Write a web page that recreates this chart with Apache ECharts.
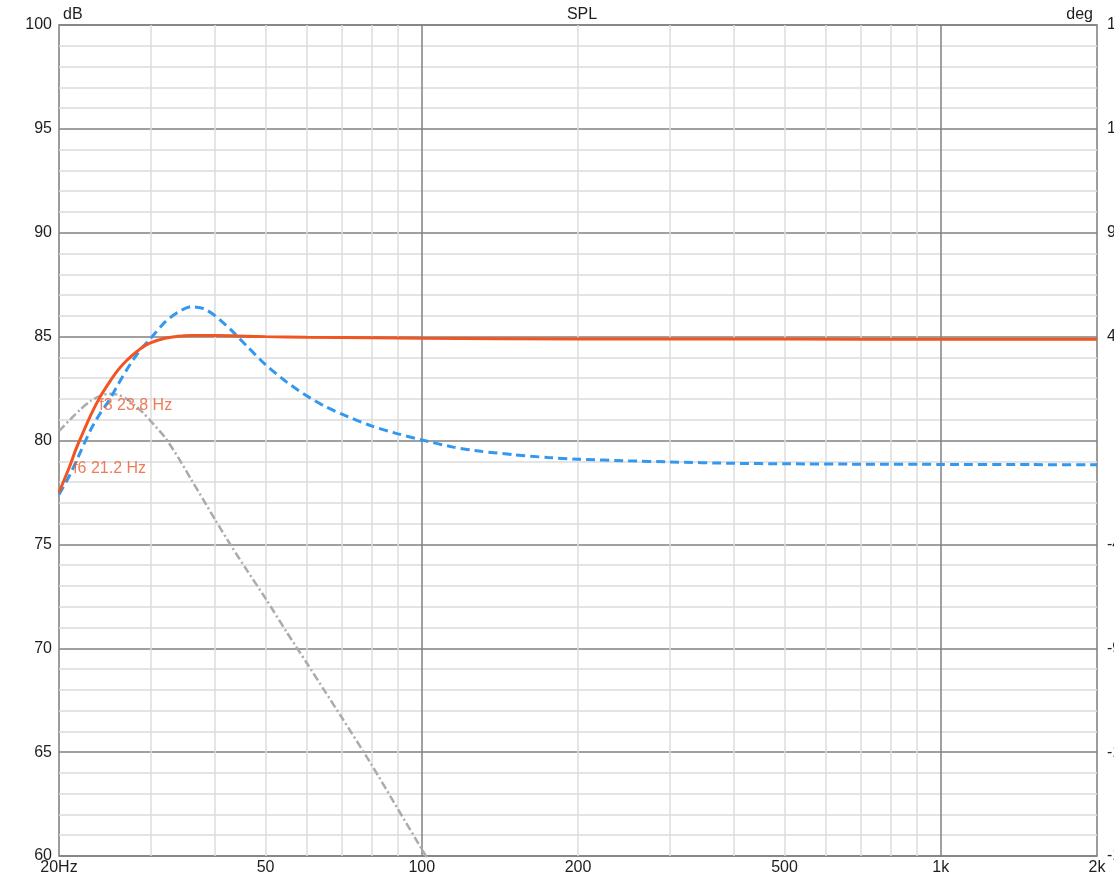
<!DOCTYPE html>
<html>
<head>
<meta charset="utf-8">
<script src="https://cdn.jsdelivr.net/npm/echarts@6/dist/echarts.min.js"></script>
<style>
  html, body { margin: 0; padding: 0; background: #ffffff; }
  #chart { width: 1114px; height: 882px; }
</style>
</head>
<body>
<div id="chart"></div>
<script>
// ---- data ----
const chartTitle = 'SPL';
const leftAxisName = 'dB';
const rightAxisName = 'deg';

const xTickValues = [20, 50, 100, 200, 500, 1000, 2000];
const xTickLabels = ['20Hz', '50', '100', '200', '500', '1k', '2k'];
const xMinorGrid = [30, 40, 50, 60, 70, 80, 90, 200, 300, 400, 500, 600, 700, 800, 900];
const xMajorGrid = [100, 1000];

// orange solid: SPL
const splFreq = [20, 21, 21.5, 22, 23, 24, 25, 26, 27, 28, 29, 30, 32, 34, 36, 40, 46, 50, 60, 80, 100, 200, 500, 1000, 2000];
const splValues = [77.5, 78.8, 79.5, 80.1, 81.2, 82.1, 82.8, 83.4, 83.85, 84.2, 84.5, 84.7, 84.92, 85.02, 85.05, 85.05, 85.02, 85.0, 84.97, 84.94, 84.92, 84.89, 84.88, 84.87, 84.87];

// blue dashed
const blueFreq = [20, 21, 22, 23, 24, 25, 26, 27, 28, 29, 30, 32, 34, 36, 38, 40, 43, 46, 50, 55, 60, 65, 70, 80, 90, 100, 115, 130, 150, 175, 200, 250, 300, 400, 500, 700, 1000, 1500, 2000];
const blueValues = [77.4, 78.35, 79.45, 80.5, 81.3, 81.95, 82.7, 83.4, 84.0, 84.5, 84.9, 85.7, 86.2, 86.44, 86.35, 86.0, 85.3, 84.55, 83.65, 82.8, 82.15, 81.65, 81.28, 80.7, 80.32, 80.03, 79.68, 79.48, 79.32, 79.18, 79.1, 79.02, 78.97, 78.9, 78.88, 78.86, 78.85, 78.84, 78.83];

// gray dash-dot
const grayFreq = [20, 21, 22, 23, 24, 25, 26, 27, 28, 29, 30, 32, 34, 36, 38, 40, 43, 46, 50, 55, 60, 65, 70, 80, 90, 100, 103];
const grayValues = [80.45, 81.0, 81.5, 81.9, 82.15, 82.25, 82.2, 82.0, 81.7, 81.35, 80.95, 80.15, 79.15, 78.1, 77.12, 76.18, 74.9, 73.77, 72.4, 70.75, 69.3, 67.95, 66.7, 64.4, 62.25, 60.33, 59.8];

// annotations
const markerNames = ['f3', 'f6'];
const markerFreqs = [23.8, 21.2];
const markerLevels = [82, 79];

// ---- chart ----
const zip = (xs, ys) => xs.map((x, i) => [x, ys[i]]);
const labelFont = { fontFamily: 'Liberation Sans, Arial, sans-serif', fontSize: 16, color: '#1e1e1e' };

const chart = echarts.init(document.getElementById('chart'), null, { renderer: 'canvas' });
chart.setOption({
  backgroundColor: '#ffffff',
  animation: false,
  title: {
    text: chartTitle, left: 577, top: 2, textAlign: 'center',
    textStyle: { fontFamily: 'Liberation Sans, Arial, sans-serif', fontSize: 16, fontWeight: 'normal', color: '#1e1e1e' }
  },
  grid: {
    left: 59, top: 25, right: 17, bottom: 26,
    show: true, borderColor: '#7c7c7c', borderWidth: 1.5, backgroundColor: 'transparent',
    containLabel: false, outerBoundsMode: 'none'
  },
  xAxis: [
    {
      type: 'log', logBase: 10, min: 20, max: 2000, position: 'bottom',
      axisLine: { show: false },
      axisTick: { show: false, customValues: xMinorGrid },
      axisLabel: {
        show: true, customValues: xTickValues, margin: 4, ...labelFont,
        formatter: (v) => { const i = xTickValues.findIndex(t => Math.abs(t - v) < 1e-6); return i >= 0 ? xTickLabels[i] : ''; }
      },
      splitLine: { show: true, lineStyle: { color: '#dcdcdc', width: 1.5 } },
      minorSplitLine: { show: false }
    },
    {
      type: 'log', logBase: 10, min: 20, max: 2000, position: 'bottom',
      axisLine: { show: false },
      axisTick: { show: false, customValues: xMajorGrid },
      axisLabel: { show: false },
      splitLine: { show: true, lineStyle: { color: '#808080', width: 1.5 } }
    }
  ],
  yAxis: [
    {
      type: 'value', min: 60, max: 100, interval: 5, position: 'left',
      name: leftAxisName, nameLocation: 'end', nameGap: 2,
      nameTextStyle: { ...labelFont, align: 'left', padding: [0, 0, 0, 4] },
      axisLine: { show: false }, axisTick: { show: false },
      axisLabel: { ...labelFont, margin: 7 },
      splitLine: { show: true, lineStyle: { color: '#808080', width: 1.5 } },
      minorTick: { show: false, splitNumber: 5 },
      minorSplitLine: { show: true, lineStyle: { color: '#dcdcdc', width: 1.5 } }
    },
    {
      type: 'value', min: -180, max: 180, interval: 45, position: 'right',
      name: rightAxisName, nameLocation: 'end', nameGap: 2,
      nameTextStyle: { ...labelFont, align: 'right', padding: [0, 4, 0, 0] },
      axisLine: { show: false }, axisTick: { show: false },
      axisLabel: { ...labelFont, margin: 10, align: 'left', formatter: (v) => v === 0 ? '' : String(v) },
      splitLine: { show: false }
    }
  ],
  series: [
    {
      name: 'gray', type: 'line', xAxisIndex: 0, yAxisIndex: 0, data: zip(grayFreq, grayValues),
      showSymbol: false, smooth: 0.25, clip: true,
      lineStyle: { color: '#ababab', width: 2.5, type: [8, 3, 2, 3] }, z: 3
    },
    {
      name: 'blue', type: 'line', xAxisIndex: 0, yAxisIndex: 0, data: zip(blueFreq, blueValues),
      showSymbol: false, smooth: 0.25, clip: true,
      lineStyle: { color: '#3398f0', width: 3, type: [9, 5] }, z: 4
    },
    {
      name: 'spl', type: 'line', xAxisIndex: 0, yAxisIndex: 0, data: zip(splFreq, splValues),
      showSymbol: false, smooth: 0.25, clip: true,
      lineStyle: { color: '#f05522', width: 3 }, z: 5
    },
    {
      name: 'markers', type: 'scatter', xAxisIndex: 0, yAxisIndex: 0,
      data: markerFreqs.map((f, i) => ({ value: [f, markerLevels[i]], name: markerNames[i] })),
      symbolSize: 0, z: 6,
      label: {
        show: true, position: [1, -1],
        formatter: (p) => p.name + ' ' + p.value[0].toFixed(1) + ' Hz',
        fontFamily: 'Liberation Sans, Arial, sans-serif', fontSize: 16, color: '#ec5a2e'
      }
    }
  ]
});
</script>
</body>
</html>
